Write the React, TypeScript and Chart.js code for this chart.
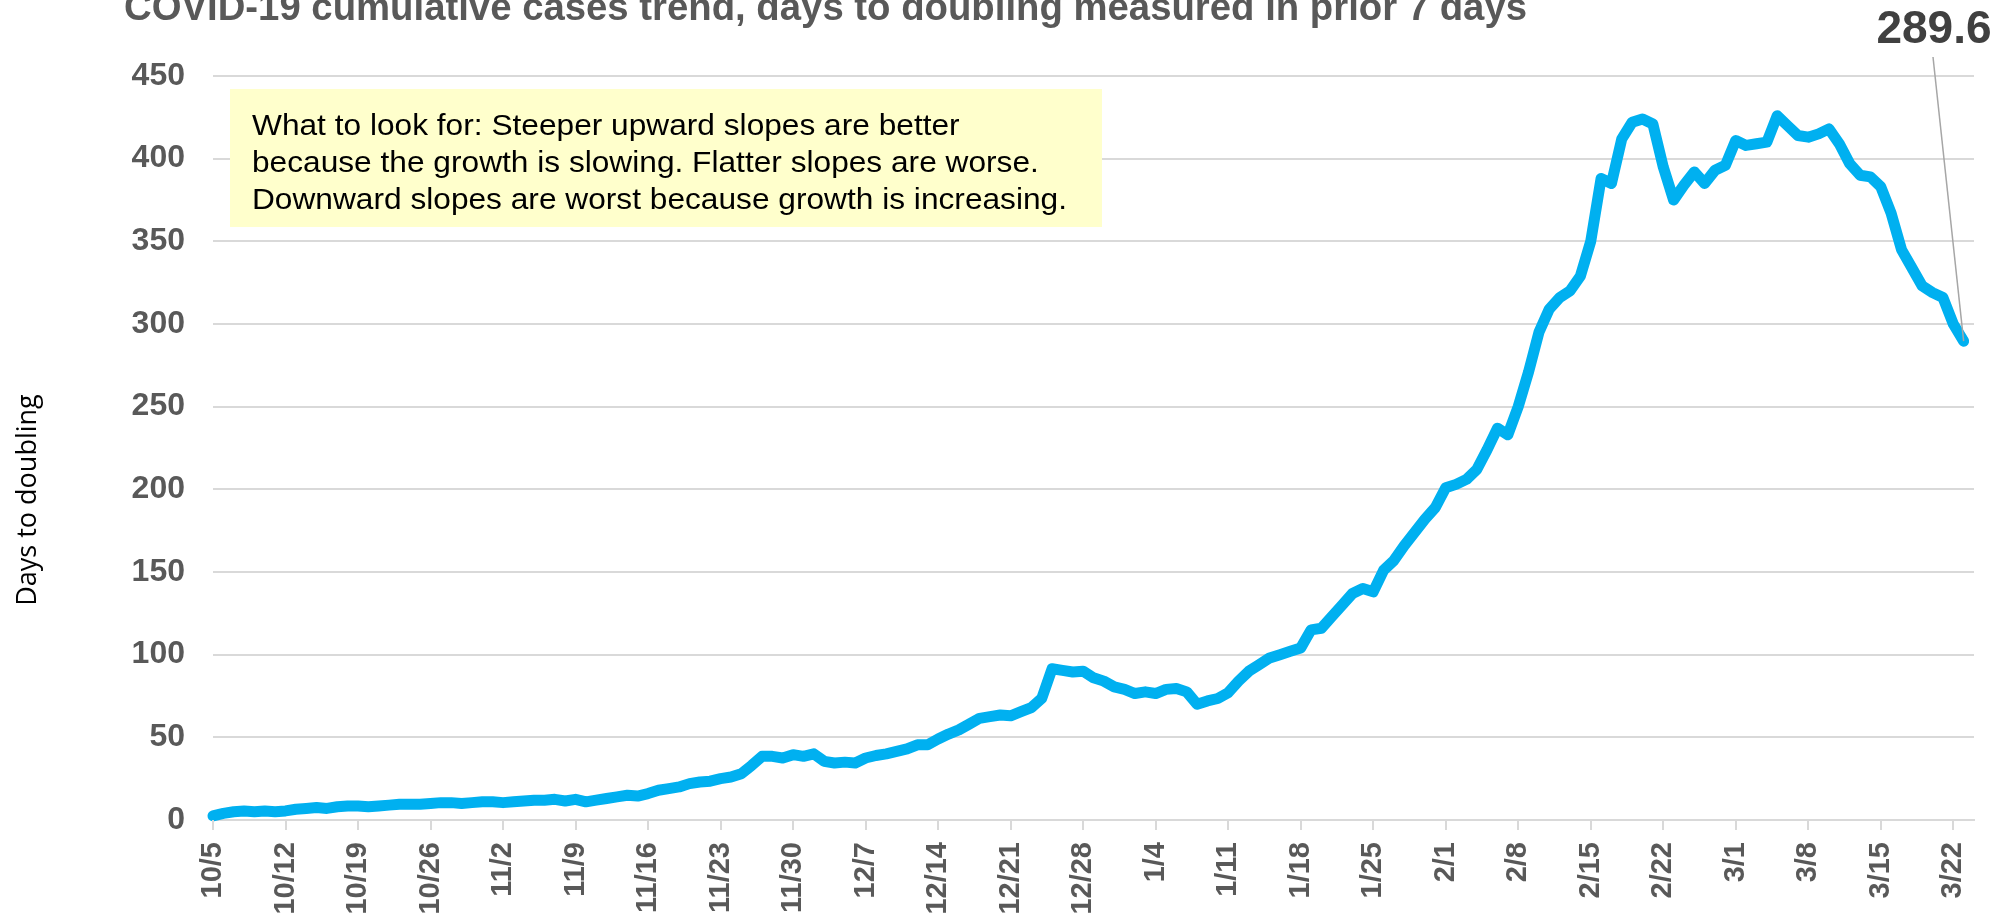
import React, { useEffect, useRef } from "react";
import { Chart, registerables } from "chart.js";

Chart.register(...registerables);

const DATES: string[] = [
  "10/5","10/6","10/7","10/8","10/9","10/10","10/11","10/12","10/13","10/14","10/15","10/16","10/17","10/18","10/19","10/20","10/21","10/22","10/23","10/24","10/25","10/26","10/27","10/28","10/29","10/30","10/31",
  "11/1","11/2","11/3","11/4","11/5","11/6","11/7","11/8","11/9","11/10","11/11","11/12","11/13","11/14","11/15","11/16","11/17","11/18","11/19","11/20","11/21","11/22","11/23","11/24","11/25","11/26","11/27","11/28","11/29","11/30",
  "12/1","12/2","12/3","12/4","12/5","12/6","12/7","12/8","12/9","12/10","12/11","12/12","12/13","12/14","12/15","12/16","12/17","12/18","12/19","12/20","12/21","12/22","12/23","12/24","12/25","12/26","12/27","12/28","12/29","12/30","12/31",
  "1/1","1/2","1/3","1/4","1/5","1/6","1/7","1/8","1/9","1/10","1/11","1/12","1/13","1/14","1/15","1/16","1/17","1/18","1/19","1/20","1/21","1/22","1/23","1/24","1/25","1/26","1/27","1/28","1/29","1/30","1/31",
  "2/1","2/2","2/3","2/4","2/5","2/6","2/7","2/8","2/9","2/10","2/11","2/12","2/13","2/14","2/15","2/16","2/17","2/18","2/19","2/20","2/21","2/22","2/23","2/24","2/25","2/26","2/27","2/28",
  "3/1","3/2","3/3","3/4","3/5","3/6","3/7","3/8","3/9","3/10","3/11","3/12","3/13","3/14","3/15","3/16","3/17","3/18","3/19","3/20","3/21","3/22","3/23","3/24"
];

const DAYS_TO_DOUBLING: number[] = [
  2.5, 4, 5, 5.5, 5, 5.5, 5, 5.5, 6.5, 7,
  7.5, 7, 8, 8.5, 8.5, 8, 8.5, 9, 9.5, 9.5,
  9.5, 10, 10.5, 10.5, 10, 10.5, 11, 11, 10.5, 11,
  11.5, 12, 12, 12.5, 11.5, 12.5, 11, 12, 13, 14,
  15, 14.5, 16, 18, 19, 20, 22, 23, 23.5, 25,
  26, 28, 33, 38.5, 38.5, 37.5, 39.5, 38.5, 40, 35.5,
  34.5, 35, 34.5, 37.5, 39, 40, 41.5, 43, 45.5, 45.5,
  49, 52, 54.5, 58, 61.5, 62.5, 63.5, 63, 65.5, 68,
  73.5, 91.5, 90.5, 89.5, 90, 86, 84, 80.5, 79, 76.5,
  77.5, 76.5, 79, 79.5, 77.5, 70, 72, 73.5, 77, 84,
  90, 94, 98, 100, 102, 104, 115, 116, 123, 130,
  137, 140, 138, 151, 157, 166, 174, 182, 189, 201,
  203, 206, 212, 224, 237, 233, 250, 271, 295, 309,
  316, 320, 329, 350, 388, 385, 412, 422, 424, 421,
  395, 375, 384, 392, 385, 393, 396, 411, 408, 409,
  410, 426, 420, 414, 413, 415, 418, 409, 397, 390,
  389, 383, 367, 345, 334, 323, 319, 316, 300, 289.6
];

const TICK_DATES: string[] = [
  "10/5","10/12","10/19","10/26","11/2","11/9","11/16","11/23","11/30","12/7","12/14","12/21","12/28",
  "1/4","1/11","1/18","1/25","2/1","2/8","2/15","2/22","3/1","3/8","3/15","3/22"
];

const Y_MIN = 0;
const Y_MAX = 450;
const Y_STEP = 50;

const TITLE = "COVID-19 cumulative cases trend, days to doubling measured in prior 7 days";
const Y_TITLE = "Days to doubling";
const NOTE_LINES: string[] = [
  "What to look for: Steeper upward slopes are better",
  "because the growth is slowing. Flatter slopes are worse.",
  "Downward slopes are worst because growth is increasing."
];
const LAST_LABEL = "289.6";

const SANS = "'Liberation Sans', Arial, sans-serif";

const overlayPlugin = {
  id: "overlay",
  afterDatasetsDraw(chart: any) {
    const ctx = chart.ctx as CanvasRenderingContext2D;
    const meta = chart.getDatasetMeta(0);
    const last = meta.data[meta.data.length - 1];
    if (!last) return;
    ctx.save();
    ctx.strokeStyle = "#a6a6a6";
    ctx.lineWidth = 1.5;
    ctx.beginPath();
    ctx.moveTo(1933, 57);
    ctx.lineTo(last.x, last.y);
    ctx.stroke();
    ctx.restore();
  },
  afterDraw(chart: any) {
    const ctx = chart.ctx as CanvasRenderingContext2D;
    const xs = chart.scales.x;
    const bottom = chart.chartArea.bottom;
    ctx.save();

    // x-axis tick marks at weekly labels
    ctx.strokeStyle = "#d9d9d9";
    ctx.lineWidth = 2;
    TICK_DATES.forEach((d) => {
      const idx = DATES.indexOf(d);
      const px = Math.round(xs.getPixelForValue(idx));
      ctx.beginPath();
      ctx.moveTo(px, bottom);
      ctx.lineTo(px, bottom + 10);
      ctx.stroke();
    });

    // Title (fit to measured width)
    ctx.font = `bold 38px ${SANS}`;
    ctx.fillStyle = "#595959";
    ctx.textBaseline = "alphabetic";
    ctx.textAlign = "left";
    const tw = ctx.measureText(TITLE).width;
    ctx.save();
    ctx.translate(124, 20);
    ctx.scale(1403 / tw, 1);
    ctx.fillText(TITLE, 0, 0);
    ctx.restore();

    // Note box
    ctx.fillStyle = "#FFFFCC";
    ctx.fillRect(230, 89, 872, 138);
    ctx.font = `29px ${SANS}`;
    ctx.fillStyle = "#000000";
    const w3 = ctx.measureText(NOTE_LINES[2]).width;
    const sx = 815 / w3;
    const baselines = [135, 172, 209];
    NOTE_LINES.forEach((line, i) => {
      ctx.save();
      ctx.translate(252, baselines[i]);
      ctx.scale(sx, 1);
      ctx.fillText(line, 0, 0);
      ctx.restore();
    });

    // Y axis title
    ctx.save();
    ctx.font = `27px 'Open Sans', sans-serif`;
    ctx.fillStyle = "#000000";
    ctx.textAlign = "center";
    ctx.textBaseline = "alphabetic";
    ctx.translate(36, 500);
    ctx.rotate(-Math.PI / 2);
    ctx.fillText(Y_TITLE, 0, 0);
    ctx.restore();

    // Last value label
    ctx.font = `bold 46px ${SANS}`;
    ctx.fillStyle = "#404040";
    ctx.textAlign = "center";
    ctx.textBaseline = "alphabetic";
    ctx.fillText(LAST_LABEL, 1934, 43);

    ctx.restore();
  }
};

export default function App() {
  const canvasRef = useRef<HTMLCanvasElement | null>(null);

  useEffect(() => {
    const canvas = canvasRef.current;
    if (!canvas) return;
    const chart = new Chart(canvas, {
      type: "line",
      data: {
        labels: DATES,
        datasets: [
          {
            label: "Days to doubling",
            data: DAYS_TO_DOUBLING,
            borderColor: "#00B0F0",
            backgroundColor: "#00B0F0",
            borderWidth: 11,
            pointRadius: 0,
            pointHoverRadius: 0,
            tension: 0,
            borderJoinStyle: "round",
            borderCapStyle: "round",
            fill: false,
            clip: false as any
          }
        ]
      },
      options: {
        responsive: false,
        devicePixelRatio: 1,
        animation: false,
        events: [],
        layout: { padding: { top: 76, right: 30, left: 0, bottom: 0 } },
        plugins: {
          legend: { display: false },
          title: { display: false },
          tooltip: { enabled: false }
        },
        scales: {
          x: {
            type: "category",
            offset: false,
            afterFit: (scale: any) => {
              scale.height = 103;
              scale.paddingLeft = 0;
              scale.paddingRight = 0;
            },
            grid: {
              display: false,
              drawOnChartArea: false,
              drawTicks: false
            },
            border: { display: true, color: "#d9d9d9", width: 2 },
            ticks: {
              autoSkip: false,
              maxRotation: 90,
              minRotation: 90,
              padding: 22,
              color: "#595959",
              font: { family: SANS, size: 29, weight: "bold" },
              callback: (_v: any, index: number) =>
                TICK_DATES.includes(DATES[index]) ? DATES[index] : null
            }
          },
          y: {
            min: Y_MIN,
            max: Y_MAX,
            afterFit: (scale: any) => {
              scale.width = 213;
              scale.paddingTop = 0;
              scale.paddingBottom = 0;
            },
            grid: {
              color: "#d9d9d9",
              lineWidth: 2,
              drawTicks: false
            },
            border: { display: false },
            ticks: {
              stepSize: Y_STEP,
              padding: 28,
              color: "#595959",
              font: { family: SANS, size: 32, weight: "bold" }
            }
          }
        }
      },
      plugins: [overlayPlugin]
    });
    return () => chart.destroy();
  }, []);

  return (
    <div style={{ position: "fixed", left: 0, top: 0, width: 2004, height: 923, background: "#ffffff" }}>
      <canvas ref={canvasRef} width={2004} height={923} style={{ display: "block" }} />
    </div>
  );
}
